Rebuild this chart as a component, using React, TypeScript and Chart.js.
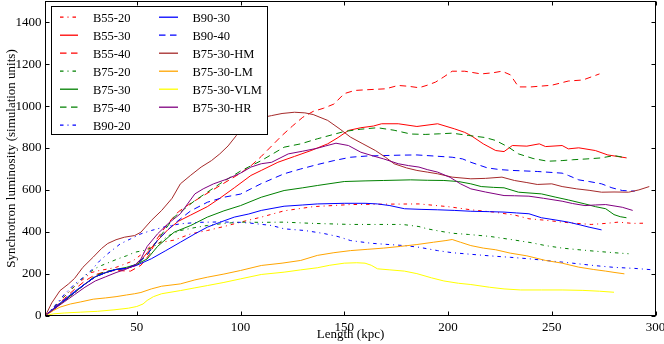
import React, { useEffect, useRef } from 'react';
import { Chart, registerables } from 'chart.js';

Chart.register(...registerables);

const xTicks = [50, 100, 150, 200, 250, 300];
const yTicks = [0, 200, 400, 600, 800, 1000, 1200, 1400];

const b5520X = [6,10,15,20,25,28,32,36,40,44,48,52,57,62,68,76,84,92,100,110,121,135,153,170,186,200,211,222,232,239,247,255,262,269,276,282,289,295];
const b5520Y = [0,40,90,140,180,205,215,222,230,245,260,290,334,350,360,390,406,425,446,470,500,520,530,532,533,520,505,494,480,462,455,446,440,435,440,446,440,441];

const b5530X = [6,10,15,20,25,30,35,40,45,50,55,60,65,70,76,84,90,97,105,110,118,126,134,142,147,152,158,164,168,176,185,195,203,208,211,217,223,227,231,238,244,247,255,258,263,271,277,286];
const b5530Y = [0,30,70,110,150,185,205,220,225,240,300,358,410,450,480,520,560,610,669,693,732,760,788,820,850,884,897,905,916,916,903,916,892,875,860,820,788,783,812,809,820,807,812,796,801,788,767,753];

const b5540X = [6,10,15,20,25,30,35,40,47,52,56,60,65,70,75,80,85,90,95,100,105,110,115,120,125,130,135,140,145,150,155,160,170,176,181,186,190,194,198,202,208,216,222,226,230,234,240,250,258,265,273];
const b5540Y = [0,35,80,125,165,195,210,215,212,240,290,370,440,495,530,560,590,620,650,680,715,760,810,860,905,947,975,990,1010,1060,1075,1078,1083,1099,1095,1088,1100,1115,1140,1167,1167,1154,1160,1167,1150,1092,1092,1100,1120,1125,1154];

const b7520X = [6,10,15,20,25,30,33,37,41,45,49,55,60,65,71,78,84,92,100,110,121,135,153,165,178,186,190,196,202,210,220,231,240,247,255,262,271,280,287];
const b7520Y = [0,40,90,140,190,225,239,255,271,285,302,314,340,380,406,420,430,440,446,445,446,440,435,435,435,425,414,403,393,387,378,362,348,334,322,315,307,300,295];

const b7530X = [6,10,15,20,25,30,35,40,45,50,55,60,68,76,84,92,100,110,121,130,137,150,160,169,182,190,198,205,211,216,222,227,234,245,252,258,266,271,276,280,283,286];
const b7530Y = [0,30,70,110,150,185,205,220,230,245,270,330,398,430,470,500,525,565,597,610,621,640,643,645,648,646,645,640,629,616,612,610,589,581,565,552,533,520,510,482,472,467];

const b7540X = [6,10,15,20,25,30,35,40,45,50,55,60,68,78,90,100,110,121,129,137,150,158,166,174,182,189,196,202,210,218,223,229,234,241,248,255,260,267,274,280,286];
const b7540Y = [0,30,70,110,150,190,210,220,225,245,290,360,470,549,629,690,740,804,820,844,879,890,897,885,867,865,868,871,860,850,836,805,772,750,737,740,744,748,753,764,753];

const b9020X = [6,10,15,20,24,26,28,32,36,42,47,52,57,64,71,80,90,100,105,115,121,131,140,147,153,163,170,179,186,195,202,208,220,230,239,250,260,270,280,290,299];
const b9020Y = [0,40,100,150,180,200,215,260,295,342,366,390,406,425,438,445,447,445,441,430,414,406,392,377,358,345,340,334,326,310,300,295,285,278,271,260,250,239,230,225,218];

const b9030X = [6,10,15,20,25,30,35,40,45,50,57,64,71,78,84,90,97,104,110,121,130,137,150,160,166,172,179,187,195,203,211,220,227,233,239,245,252,258,264,268,274];
const b9030Y = [0,35,75,115,150,185,205,220,225,240,271,310,350,390,422,445,470,485,502,522,528,533,536,536,533,525,510,507,505,502,498,496,494,490,486,467,456,446,432,422,409];

const b9040X = [6,10,15,20,25,30,35,40,45,50,55,60,68,76,84,92,100,105,110,121,129,137,145,153,161,169,177,185,193,202,207,211,219,225,231,243,255,258,263,268,274,279,284,290];
const b9040Y = [0,30,70,110,150,185,205,220,225,245,290,360,438,500,541,565,580,605,630,677,700,721,740,756,762,764,766,767,762,756,748,732,705,697,693,688,680,669,648,640,629,610,597,594];

const hmX = [6,9,13,17,20,24,29,33,36,40,44,49,52,57,62,67,71,76,81,86,90,94,98,102,105,110,115,120,126,131,135,142,148,153,159,165,170,174,180,185,190,195,202,211,218,226,232,238,243,250,255,262,268,274,280,287,292,297];
const hmY = [0,60,119,150,177,230,279,320,344,362,374,382,398,454,502,560,629,670,709,740,772,810,860,900,932,945,955,965,971,968,960,932,890,852,820,788,755,725,705,693,685,677,661,653,655,661,645,635,626,629,616,605,598,589,590,589,600,616];

const lmX = [6,10,13,18,23,29,35,40,45,49,52,57,62,71,78,84,92,100,110,120,129,137,145,153,161,169,177,185,193,199,202,206,211,217,223,230,238,247,255,263,270,276,280,285];
const lmY = [0,25,40,55,65,78,84,90,98,104,110,127,140,151,170,183,198,215,239,250,263,287,300,310,316,322,330,339,350,358,363,350,334,322,314,298,285,263,250,231,220,212,206,199];

const vlmX = [6,10,15,23,31,39,46,50,53,55,58,62,71,78,84,92,100,110,121,129,137,143,150,156,160,163,166,172,179,185,192,198,205,211,220,227,235,245,255,265,273,280];
const vlmY = [0,8,12,16,20,27,35,43,55,72,90,104,119,132,143,158,175,196,207,218,228,240,250,252,250,240,223,218,212,200,180,165,154,148,135,127,122,122,122,120,116,111];

const hrX = [6,10,15,20,25,30,35,40,45,49,52,55,60,65,71,78,82,87,93,100,105,110,115,123,130,137,141,146,152,158,164,169,176,181,186,190,195,201,206,211,218,227,232,239,246,255,260,266,271,276,284,289];
const hrY = [0,30,65,100,135,165,185,205,222,240,270,330,390,438,486,581,605,629,650,680,709,725,732,772,785,799,810,823,812,780,762,748,725,716,709,697,685,660,629,605,590,573,572,570,560,546,535,525,528,530,517,502];

const SOLID: number[] = [];
const DASHED = [6.5, 4.5];
const DASHDOT = [3.5, 4, 1, 4];

const series = [
  { label: 'B55-20', xs: b5520X, ys: b5520Y, color: '#ff0000', dash: DASHDOT },
  { label: 'B55-30', xs: b5530X, ys: b5530Y, color: '#ff0000', dash: SOLID },
  { label: 'B55-40', xs: b5540X, ys: b5540Y, color: '#ff0000', dash: DASHED },
  { label: 'B75-20', xs: b7520X, ys: b7520Y, color: '#008000', dash: DASHDOT },
  { label: 'B75-30', xs: b7530X, ys: b7530Y, color: '#008000', dash: SOLID },
  { label: 'B75-40', xs: b7540X, ys: b7540Y, color: '#008000', dash: DASHED },
  { label: 'B90-20', xs: b9020X, ys: b9020Y, color: '#0000ff', dash: DASHDOT },
  { label: 'B90-30', xs: b9030X, ys: b9030Y, color: '#0000ff', dash: SOLID },
  { label: 'B90-40', xs: b9040X, ys: b9040Y, color: '#0000ff', dash: DASHED },
  { label: 'B75-30-HM', xs: hmX, ys: hmY, color: '#a52a2a', dash: SOLID },
  { label: 'B75-30-LM', xs: lmX, ys: lmY, color: '#ffa500', dash: SOLID },
  { label: 'B75-30-VLM', xs: vlmX, ys: vlmY, color: '#ffff00', dash: SOLID },
  { label: 'B75-30-HR', xs: hrX, ys: hrY, color: '#800080', dash: SOLID },
];

const FONT = '"Liberation Serif", "Times New Roman", serif';

const framePlugin = {
  id: 'mplFrame',
  afterDraw(chart: any) {
    const { ctx, chartArea: a, scales } = chart;
    ctx.save();
    ctx.strokeStyle = '#000000';
    ctx.lineWidth = 1;
    ctx.setLineDash([]);
    ctx.strokeRect(a.left, a.top, a.right - a.left, a.bottom - a.top);
    ctx.beginPath();
    for (const v of xTicks) {
      const p = Math.round(scales.x.getPixelForValue(v)) + 0.5;
      ctx.moveTo(p, a.bottom);
      ctx.lineTo(p, a.bottom - 4);
      ctx.moveTo(p, a.top);
      ctx.lineTo(p, a.top + 4);
    }
    for (const v of yTicks) {
      const p = Math.round(scales.y.getPixelForValue(v)) + 0.5;
      ctx.moveTo(a.left, p);
      ctx.lineTo(a.left + 4, p);
      ctx.moveTo(a.right, p);
      ctx.lineTo(a.right - 4, p);
    }
    ctx.stroke();
    ctx.restore();

    // legend box (opaque, drawn over the lines like matplotlib)
    const lx = 51.5, ly = 6.5, lw = 216, lh = 128;
    ctx.save();
    ctx.fillStyle = '#ffffff';
    ctx.fillRect(lx, ly, lw, lh);
    ctx.strokeStyle = '#000000';
    ctx.lineWidth = 1;
    ctx.strokeRect(lx, ly, lw, lh);
    ctx.restore();

    const cols = [
      { lineX0: 60, lineX1: 78, textX: 93 },
      { lineX0: 159, lineX1: 178, textX: 192.5 },
    ];
    series.forEach((s, i) => {
      const col = i < 7 ? cols[0] : cols[1];
      const row = i < 7 ? i : i - 7;
      const y = 17.5 + row * 18;
      ctx.save();
      ctx.lineWidth = 1.3;
      ctx.strokeStyle = s.color;
      ctx.setLineDash(s.dash);
      ctx.beginPath();
      ctx.moveTo(col.lineX0, y - 0.3);
      ctx.lineTo(col.lineX1, y - 0.3);
      ctx.stroke();
      ctx.restore();
      ctx.save();
      ctx.font = `12.5px ${FONT}`;
      ctx.textBaseline = 'alphabetic';
      ctx.textAlign = 'left';
      ctx.fillStyle = '#000000';
      ctx.fillText(s.label, col.textX, y + 4.2);
      ctx.restore();
    });
  },
};

export default function App() {
  const ref = useRef<HTMLCanvasElement | null>(null);
  useEffect(() => {
    if (!ref.current) return;
    const chart = new Chart(ref.current, {
      type: 'line',
      data: {
        datasets: series.map((s, i) => ({
          label: s.label,
          data: s.xs.map((x, j) => ({ x, y: s.ys[j] })),
          borderColor: s.color,
          backgroundColor: s.color,
          borderWidth: 1,
          borderDash: s.dash,
          pointRadius: 0,
          tension: 0,
          fill: false,
          order: -i,
        })),
      },
      options: {
        responsive: false,
        animation: false,
        devicePixelRatio: 1,
        layout: { padding: { top: 1.5, right: 8.5, left: 0, bottom: 0 } },
        plugins: { legend: { display: false }, tooltip: { enabled: false } },
        scales: {
          x: {
            type: 'linear',
            min: 6,
            max: 300,
            grid: { display: false, drawTicks: false },
            border: { display: false },
            afterBuildTicks: (s: any) => { s.ticks = xTicks.map((v) => ({ value: v })); },
            afterFit: (s: any) => {
              s.height = 28.5;
              s.paddingLeft = 0; s.paddingRight = 0; s.paddingTop = 0; s.paddingBottom = 0;
            },
            ticks: { color: '#000', padding: 4, maxRotation: 0, font: { family: FONT, size: 13 }, callback: (v: any) => String(v) },
            title: {
              display: true,
              text: 'Length (kpc)',
              color: '#000',
              padding: { top: 0, bottom: 1.5 },
              font: { family: FONT, size: 13 },
            },
          },
          y: {
            type: 'linear',
            min: 0,
            max: 1500,
            grid: { display: false, drawTicks: false },
            border: { display: false },
            afterBuildTicks: (s: any) => { s.ticks = yTicks.map((v) => ({ value: v })); },
            afterFit: (s: any) => {
              s.width = 45.5;
              s.paddingLeft = 0; s.paddingRight = 0; s.paddingTop = 0; s.paddingBottom = 0;
            },
            ticks: { color: '#000', padding: 4, font: { family: FONT, size: 13 }, callback: (v: any) => String(v) },
            title: {
              display: true,
              text: 'Synchrotron luminosity (simulation units)',
              color: '#000',
              padding: { top: 4, bottom: 0 },
              font: { family: FONT, size: 13 },
            },
          },
        },
      },
      plugins: [framePlugin],
    } as any);
    return () => chart.destroy();
  }, []);
  return (
    <div style={{ position: 'absolute', left: 0, top: 0, width: 664, height: 344, background: '#fff' }}>
      <canvas ref={ref} width={664} height={344} style={{ display: 'block' }} />
    </div>
  );
}
